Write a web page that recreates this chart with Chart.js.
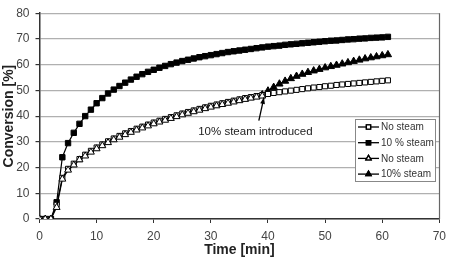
<!DOCTYPE html>
<html>
<head>
<meta charset="utf-8">
<script src="https://cdn.jsdelivr.net/npm/chart.js@4/dist/chart.umd.min.js"></script>
<style>
  html, body { margin: 0; padding: 0; background: #fff; }
  #wrap { width: 452px; height: 262px; position: relative; }
</style>
</head>
<body>
<div id="wrap"><canvas id="chart"></canvas></div>
<script>
// time points [min]
const timeAll = [0, 1, 2, 3, 4, 5, 6, 7, 8, 9, 10, 11, 12, 13, 14, 15, 16, 17, 18, 19,
    20, 21, 22, 23, 24, 25, 26, 27, 28, 29, 30, 31, 32, 33, 34, 35, 36, 37, 38, 39,
    40, 41, 42, 43, 44, 45, 46, 47, 48, 49, 50, 51, 52, 53, 54, 55, 56, 57, 58, 59, 60, 61];
const timeBefore = [0, 1, 2, 3, 4, 5, 6, 7, 8, 9, 10, 11, 12, 13, 14, 15, 16, 17, 18, 19,
    20, 21, 22, 23, 24, 25, 26, 27, 28, 29, 30, 31, 32, 33, 34, 35, 36, 37, 38, 39];
const timeAfter = [39, 40, 41, 42, 43, 44, 45, 46, 47, 48, 49, 50, 51, 52, 53, 54, 55, 56, 57, 58, 59, 60, 61];

// conversion [%]
const noSteamA = [0, 0, 0, 5.5, 16, 19.5, 21.5, 23.3, 25, 26.5, 27.8, 29, 30.2, 31.3, 32.3, 33.3, 34.2, 35.1, 35.9, 36.7,
    37.5, 38.2, 38.9, 39.6, 40.3, 41, 41.6, 42.2, 42.8, 43.4, 44, 44.5, 45, 45.5, 46, 46.5, 47, 47.4, 47.8, 48.2,
    48.6, 49, 49.3, 49.6, 49.9, 50.2, 50.5, 50.8, 51.1, 51.3, 51.6, 51.8, 52.1, 52.3, 52.5, 52.7, 52.9, 53.1, 53.3, 53.5, 53.7, 53.9];
const steam10A = [0, 0, 0, 6.5, 24, 29.5, 33.5, 37, 40, 42.5, 45, 47, 48.8, 50.3, 51.7, 53, 54.2, 55.3, 56.3, 57.2,
    58, 58.8, 59.5, 60.2, 60.8, 61.4, 61.9, 62.4, 62.9, 63.3, 63.7, 64.1, 64.5, 64.9, 65.2, 65.5, 65.8, 66.1, 66.4, 66.7,
    67, 67.2, 67.4, 67.7, 67.9, 68.1, 68.3, 68.5, 68.7, 68.9, 69.1, 69.3, 69.4, 69.6, 69.8, 69.9, 70.1, 70.2, 70.4, 70.5, 70.6, 70.8];
const noSteamB = [0, 0, 0, 4.5, 15.5, 19, 21, 23, 24.5, 26, 27.3, 28.5, 29.7, 30.8, 31.8, 32.8, 33.7, 34.6, 35.4, 36.2,
    37, 37.7, 38.4, 39.1, 39.8, 40.5, 41.1, 41.7, 42.3, 42.9, 43.5, 44, 44.5, 45, 45.5, 46, 46.5, 47, 47.4, 47.8];
const steam10B = [48.3, 49.8, 51.2, 52.5, 53.6, 54.6, 55.5, 56.3, 57, 57.6, 58.2, 58.8, 59.3, 59.8, 60.3, 60.8,
    61.3, 61.8, 62.3, 62.7, 63.1, 63.5, 63.9];

const seriesLabels = ['No steam', '10 % steam', 'No steam', '10% steam'];
const xTicks = [0, 10, 20, 30, 40, 50, 60, 70];
const yTicks = [0, 10, 20, 30, 40, 50, 60, 70, 80];

const FONT = '"Liberation Sans", Arial, sans-serif';

function pts(xs, ys) {
    return xs.map((x, i) => ({ x: x, y: ys[i] }));
}

function makeSet(label, xs, ys, style, filled, r) {
    return {
        label: label,
        data: pts(xs, ys),
        borderColor: '#000',
        borderWidth: 1.2,
        pointStyle: style,
        pointRadius: r,
        pointBorderWidth: 1,
        pointBorderColor: '#000',
        pointBackgroundColor: filled ? '#000' : '#fff',
        showLine: true,
        fill: false,
        tension: 0
    };
}

const datasets = [
    makeSet(seriesLabels[2], timeBefore, noSteamB, 'triangle', false, 4),
    makeSet(seriesLabels[0], timeAll, noSteamA, 'rect', false, 3.6),
    makeSet(seriesLabels[3], timeAfter, steam10B, 'triangle', true, 4.2),
    makeSet(seriesLabels[1], timeAll, steam10A, 'rect', true, 3.8)
];

// plot frame, annotation and legend box
const extras = {
    id: 'extras',
    afterDraw(chart) {
        const ctx = chart.ctx;
        const a = chart.chartArea;
        const xs = chart.scales.x, ys = chart.scales.y;
        ctx.save();
        // right frame line
        ctx.strokeStyle = '#666';
        ctx.lineWidth = 1.2;
        ctx.beginPath();
        ctx.moveTo(Math.round(a.right) + 0.5, a.top);
        ctx.lineTo(Math.round(a.right) + 0.5, a.bottom);
        ctx.stroke();

        // annotation
        ctx.fillStyle = '#222';
        ctx.font = '11.5px ' + FONT;
        ctx.textAlign = 'center';
        ctx.textBaseline = 'middle';
        ctx.fillText('10% steam introduced', xs.getPixelForValue(37.8), ys.getPixelForValue(33.8));
        const x0 = xs.getPixelForValue(38.4), y0 = ys.getPixelForValue(38.2);
        const x1 = xs.getPixelForValue(39.3), y1 = ys.getPixelForValue(47.3);
        ctx.strokeStyle = '#000';
        ctx.lineWidth = 1.3;
        ctx.beginPath();
        ctx.moveTo(x0, y0);
        ctx.lineTo(x1, y1);
        ctx.stroke();
        const ang = Math.atan2(y1 - y0, x1 - x0);
        ctx.fillStyle = '#000';
        ctx.beginPath();
        ctx.moveTo(x1, y1);
        ctx.lineTo(x1 - 7 * Math.cos(ang - 0.35), y1 - 7 * Math.sin(ang - 0.35));
        ctx.lineTo(x1 - 7 * Math.cos(ang + 0.35), y1 - 7 * Math.sin(ang + 0.35));
        ctx.closePath();
        ctx.fill();

        // legend
        const bx = 355.5, by = 119.5, bw = 80, bh = 62;
        ctx.fillStyle = '#fff';
        ctx.fillRect(bx, by, bw, bh);
        ctx.strokeStyle = '#888';
        ctx.lineWidth = 1;
        ctx.strokeRect(bx, by, bw, bh);
        const order = [1, 3, 0, 2];
        ctx.font = '10px ' + FONT;
        ctx.textAlign = 'left';
        order.forEach((di, i) => {
            const ds = chart.data.datasets[di];
            const y = 127 + i * 15.7;
            ctx.strokeStyle = '#000';
            ctx.lineWidth = 1.3;
            ctx.beginPath();
            ctx.moveTo(358, y);
            ctx.lineTo(379, y);
            ctx.stroke();
            Chart.helpers.drawPoint(ctx, {
                pointStyle: ds.pointStyle,
                radius: 3,
                borderWidth: 1,
                rotation: 0
            }, 368.5, y);
            ctx.fillStyle = ds.pointBackgroundColor;
            ctx.strokeStyle = '#000';
            ctx.fill();
            ctx.stroke();
            ctx.fillStyle = '#333';
            ctx.fillText(ds.label, 381, y + 0.5);
        });
        ctx.restore();
    }
};

new Chart(document.getElementById('chart'), {
    type: 'scatter',
    data: { datasets: datasets },
    options: {
        responsive: true,
        maintainAspectRatio: false,
        animation: false,
        layout: { padding: { top: 6, right: 11, left: 0, bottom: 0 } },
        plugins: { legend: { display: false }, tooltip: { enabled: false } },
        scales: {
            x: {
                type: 'linear',
                min: 0,
                max: 70,
                afterBuildTicks: s => { s.ticks = xTicks.map(v => ({ value: v })); },
                afterFit: s => { s.height = 43; },
                grid: { display: true, drawOnChartArea: false, tickLength: 4, color: '#333' },
                border: { color: '#333', width: 1.5 },
                ticks: { color: '#444', padding: 6, font: { family: FONT, size: 12 } },
                title: {
                    display: true,
                    text: 'Time [min]',
                    color: '#222',
                    padding: { top: 2, bottom: 3 },
                    font: { family: FONT, size: 14, weight: 'bold' }
                }
            },
            y: {
                min: 0,
                max: 80,
                afterBuildTicks: s => { s.ticks = yTicks.map(v => ({ value: v })); },
                afterFit: s => { s.width = 39.5; },
                grid: { color: '#b0b0b0', lineWidth: 1.2, tickLength: 4, tickColor: '#333' },
                border: { color: '#333', width: 1.5 },
                ticks: { color: '#444', padding: 6, font: { family: FONT, size: 12 } },
                title: {
                    display: true,
                    text: 'Conversion [%]',
                    color: '#222',
                    padding: { top: 1, bottom: 0 },
                    font: { family: FONT, size: 14, weight: 'bold' }
                }
            }
        }
    },
    plugins: [extras]
});
</script>
</body>
</html>
